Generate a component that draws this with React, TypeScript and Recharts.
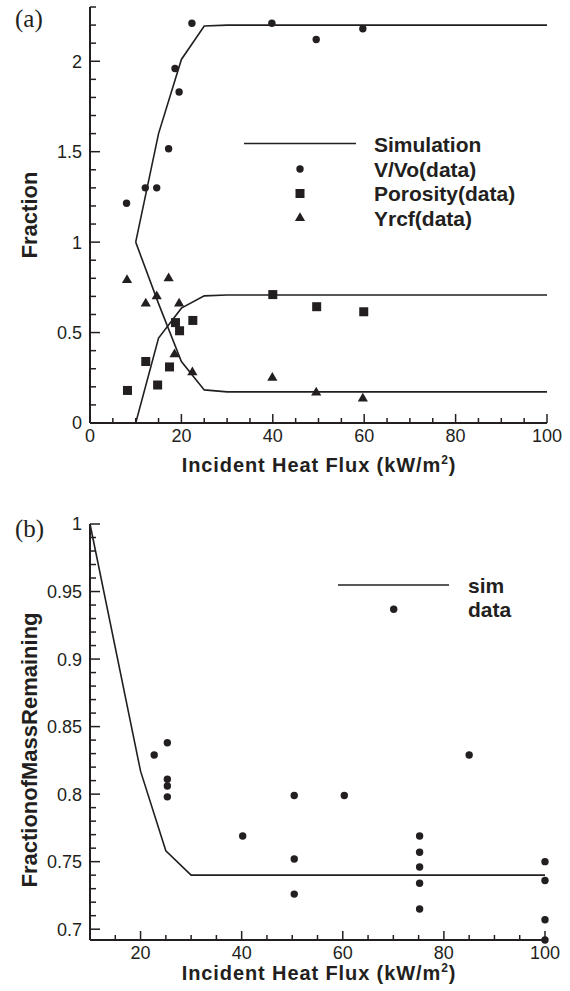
import React from 'react';
import { ComposedChart, Line, Scatter, XAxis, YAxis } from 'recharts';

// Panel (a) – simulation curves
const simFluxA = [10, 15, 20, 25, 30, 100];
const simVolumeA = [1.0, 1.6, 2.01, 2.195, 2.2, 2.2];
const simPorosityA = [0.0, 0.47, 0.635, 0.703, 0.708, 0.708];
const simYrcfA = [1.0, 0.66, 0.34, 0.183, 0.172, 0.172];

// Panel (a) – measured points
const volumeFlux = [8.0, 12.1, 14.6, 17.2, 18.6, 19.5, 22.3, 39.8, 49.5, 59.7];
const volumeValue = [1.215, 1.3, 1.3, 1.516, 1.96, 1.83, 2.21, 2.21, 2.12, 2.18];
const porosityFlux = [8.2, 12.2, 14.8, 17.4, 18.7, 19.6, 22.5, 40.0, 49.6, 59.9];
const porosityValue = [0.18, 0.34, 0.21, 0.31, 0.555, 0.51, 0.567, 0.71, 0.643, 0.615];
const yrcfFlux = [8.1, 12.2, 14.6, 17.2, 19.5, 18.5, 22.4, 39.9, 49.5, 59.7];
const yrcfValue = [0.79, 0.66, 0.7, 0.8, 0.66, 0.38, 0.28, 0.25, 0.168, 0.135];

// Panel (b) – mass remaining
const simFluxB = [10, 20, 25, 30, 100];
const simMassB = [1.0, 0.817, 0.758, 0.74, 0.74];
const massFlux = [22.7, 25.3, 25.3, 25.3, 25.3, 40.2, 50.4, 50.4, 50.4, 60.3, 75.2, 75.2, 75.2, 75.2, 75.2, 85.0, 100, 100, 100, 100];
const massValue = [0.829, 0.838, 0.811, 0.806, 0.798, 0.769, 0.799, 0.752, 0.726, 0.799, 0.769, 0.757, 0.746, 0.734, 0.715, 0.829, 0.75, 0.736, 0.707, 0.692];

// Tick labels
const xLabelsA = [0, 20, 40, 60, 80, 100];
const yLabelsA = [0, 0.5, 1, 1.5, 2];
const xLabelsB = [20, 40, 60, 80, 100];
const yLabelsB = [0.7, 0.75, 0.8, 0.85, 0.9, 0.95, 1];

const INK = '#231f20';
const SANS = "'Liberation Sans', Arial, sans-serif";
const SERIF = "'Liberation Serif', serif";

const range = (from: number, to: number, step: number) => {
  const out: number[] = [];
  for (let v = from; v <= to + 1e-9; v += step) out.push(Math.round(v * 1000) / 1000);
  return out;
};

const pairs = (xs: number[], ys: number[]) => xs.map((x, i) => ({ flux: x, value: ys[i] }));

const tickText = { fontFamily: SANS, fontSize: 18 };

function XTick(props: any) {
  const { x, y, payload, labels } = props;
  const major = labels.includes(payload.value);
  return (
    <g>
      <line x1={x} x2={x} y1={y} y2={y - (major ? 9 : 5)} stroke={INK} strokeWidth={1.5} />
      {major && (
        <text x={x} y={y + 18.5} textAnchor="middle" fill={INK} style={tickText}>
          {payload.value}
        </text>
      )}
    </g>
  );
}

function YTick(props: any) {
  const { x, y, payload, labels } = props;
  const major = labels.includes(payload.value);
  return (
    <g>
      <line x1={x} x2={x + (major ? 10 : 6)} y1={y} y2={y} stroke={INK} strokeWidth={1.5} />
      {major && (
        <text x={x - 8} y={y} dy="0.36em" textAnchor="end" fill={INK} style={tickText}>
          {payload.value}
        </text>
      )}
    </g>
  );
}

const Dot = (p: any) => <circle cx={p.cx} cy={p.cy} r={3.7} fill={INK} />;
const Square = (p: any) => <rect x={p.cx - 4.5} y={p.cy - 4.5} width={9} height={9} fill={INK} />;
const Tri = (p: any) => (
  <polygon
    points={`${p.cx},${p.cy - 5.8} ${p.cx - 5.1},${p.cy + 2.9} ${p.cx + 5.1},${p.cy + 2.9}`}
    fill={INK}
  />
);

function PanelA() {
  return (
    <ComposedChart width={570} height={490} margin={{ top: 7, right: 23, left: 0, bottom: 0 }}>
      <XAxis
        type="number"
        dataKey="flux"
        domain={[0, 100]}
        ticks={range(0, 100, 5)}
        interval={0}
        height={67}
        tickSize={0}
        tickMargin={0}
        tickLine={false}
        axisLine={{ stroke: INK, strokeWidth: 2 }}
        tick={(p: any) => <XTick {...p} labels={xLabelsA} />}
      />
      <YAxis
        type="number"
        dataKey="value"
        domain={[0, 2.3]}
        ticks={range(0, 2.3, 0.1)}
        interval={0}
        width={90}
        tickSize={0}
        tickMargin={0}
        tickLine={false}
        axisLine={{ stroke: INK, strokeWidth: 2 }}
        tick={(p: any) => <YTick {...p} labels={yLabelsA} />}
      />
      <Line data={pairs(simFluxA, simVolumeA)} dataKey="value" type="linear" stroke={INK} strokeWidth={1.6} dot={false} isAnimationActive={false} />
      <Line data={pairs(simFluxA, simPorosityA)} dataKey="value" type="linear" stroke={INK} strokeWidth={1.6} dot={false} isAnimationActive={false} />
      <Line data={pairs(simFluxA, simYrcfA)} dataKey="value" type="linear" stroke={INK} strokeWidth={1.6} dot={false} isAnimationActive={false} />
      <Scatter data={pairs(volumeFlux, volumeValue)} dataKey="value" shape={Dot} isAnimationActive={false} />
      <Scatter data={pairs(porosityFlux, porosityValue)} dataKey="value" shape={Square} isAnimationActive={false} />
      <Scatter data={pairs(yrcfFlux, yrcfValue)} dataKey="value" shape={Tri} isAnimationActive={false} />
    </ComposedChart>
  );
}

function PanelB() {
  return (
    <ComposedChart width={570} height={501} margin={{ top: 34, right: 25, left: 0, bottom: 0 }}>
      <XAxis
        type="number"
        dataKey="flux"
        domain={[10, 100]}
        ticks={range(10, 100, 5)}
        interval={0}
        height={51}
        tickSize={0}
        tickMargin={0}
        tickLine={false}
        axisLine={{ stroke: INK, strokeWidth: 2 }}
        tick={(p: any) => <XTick {...p} labels={xLabelsB} />}
      />
      <YAxis
        type="number"
        dataKey="value"
        domain={[0.692, 1]}
        ticks={range(0.7, 1, 0.01)}
        interval={0}
        width={90}
        tickSize={0}
        tickMargin={0}
        tickLine={false}
        axisLine={{ stroke: INK, strokeWidth: 2 }}
        tick={(p: any) => <YTick {...p} labels={yLabelsB} />}
      />
      <Line data={pairs(simFluxB, simMassB)} dataKey="value" type="linear" stroke={INK} strokeWidth={1.6} dot={false} isAnimationActive={false} />
      <Scatter data={pairs(massFlux, massValue)} dataKey="value" shape={Dot} isAnimationActive={false} />
    </ComposedChart>
  );
}

const titleText = { fontFamily: SANS, fontWeight: 700, fontSize: 20, letterSpacing: 0.9 };

function FluxTitle({ y }: { y: number }) {
  return (
    <text x={319} y={y} textAnchor="middle" fill={INK} style={titleText}>
      Incident Heat Flux (kW/m
      <tspan style={{ fontSize: 12 }} dy={-8}>2</tspan>
      <tspan dy={8}>)</tspan>
    </text>
  );
}

function Annotations() {
  const legendText = { fontFamily: SANS, fontWeight: 700, fontSize: 21 };
  const panelTag = { fontFamily: SERIF, fontSize: 25 };
  const sideTitle = { fontFamily: SANS, fontWeight: 700, fontSize: 22 };
  return (
    <svg width={570} height={991} style={{ position: 'absolute', left: 0, top: 0, pointerEvents: 'none' }}>
      {/* panel (a) */}
      <text x={15} y={27} fill={INK} style={panelTag}>(a)</text>
      <text transform="translate(37,215) rotate(-90)" textAnchor="middle" fill={INK} style={sideTitle}>
        Fraction
      </text>
      <FluxTitle y={472} />
      <line x1={244} x2={356} y1={143.5} y2={143.5} stroke={INK} strokeWidth={1.6} />
      <Dot cx={300} cy={169} />
      <Square cx={300} cy={193.5} />
      <Tri cx={300} cy={218} />
      <text x={374} y={152} fill={INK} style={legendText}>Simulation</text>
      <text x={374} y={176.5} fill={INK} style={legendText}>V/Vo(data)</text>
      <text x={374} y={201} fill={INK} style={legendText}>Porosity(data)</text>
      <text x={374} y={225.5} fill={INK} style={legendText}>Yrcf(data)</text>

      {/* panel (b) */}
      <text x={15} y={537} fill={INK} style={panelTag}>(b)</text>
      <text transform="translate(37,750) rotate(-90)" textAnchor="middle" fill={INK} style={sideTitle}>
        FractionofMassRemaining
      </text>
      <FluxTitle y={980} />
      <line x1={338} x2={449} y1={585} y2={585} stroke={INK} strokeWidth={1.6} />
      <Dot cx={393.7} cy={609.3} />
      <text x={468} y={593} fill={INK} style={legendText}>sim</text>
      <text x={468} y={617} fill={INK} style={legendText}>data</text>
    </svg>
  );
}

export default function App() {
  return (
    <div style={{ position: 'absolute', left: 0, top: 0, width: 570, height: 991, background: '#fff' }}>
      <div style={{ position: 'absolute', left: 0, top: 0 }}>
        <PanelA />
      </div>
      <div style={{ position: 'absolute', left: 0, top: 490 }}>
        <PanelB />
      </div>
      <Annotations />
    </div>
  );
}
